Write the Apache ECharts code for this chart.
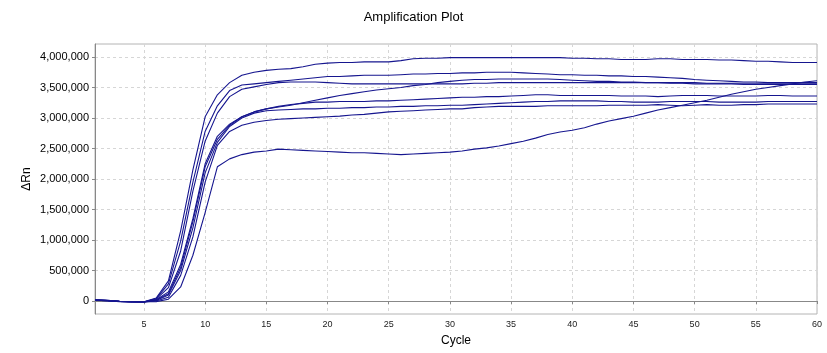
<!DOCTYPE html>
<html>
<head>
<meta charset="utf-8">
<script src="https://cdn.jsdelivr.net/npm/echarts@6/dist/echarts.min.js"></script>
<style>
html, body { margin: 0; padding: 0; background: #fff; }
#main { width: 827px; height: 353px; }
</style>
</head>
<body>
<div id="main"></div>
<script>
// 扩增曲线 (ΔRn in millions, one value per cycle)
var cycles = [1, 2, 3, 4, 5, 6, 7, 8, 9, 10, 11, 12, 13, 14, 15, 16, 17, 18, 19, 20,
	21, 22, 23, 24, 25, 26, 27, 28, 29, 30, 31, 32, 33, 34, 35, 36, 37, 38, 39, 40,
	41, 42, 43, 44, 45, 46, 47, 48, 49, 50, 51, 52, 53, 54, 55, 56, 57, 58, 59, 60];

var well1 = [0.015, 0.008, -0.005, -0.010, -0.012, 0.05, 0.33, 1.15, 2.15, 3.02, 3.38, 3.58, 3.70, 3.75, 3.78, 3.80, 3.81, 3.84, 3.88, 3.90,
	3.91, 3.91, 3.92, 3.92, 3.92, 3.94, 3.97, 3.98, 3.98, 3.99, 3.99, 3.99, 3.99, 3.99, 3.99, 3.99, 3.99, 3.99, 3.99, 3.98,
	3.98, 3.97, 3.97, 3.96, 3.96, 3.96, 3.97, 3.97, 3.96, 3.96, 3.96, 3.95, 3.95, 3.94, 3.93, 3.93, 3.92, 3.91, 3.91, 3.91];
var well2 = [0.012, 0.006, -0.008, -0.012, -0.015, 0.04, 0.28, 0.98, 1.95, 2.78, 3.20, 3.45, 3.54, 3.56, 3.58, 3.60, 3.62, 3.64, 3.66, 3.68,
	3.68, 3.69, 3.70, 3.70, 3.70, 3.71, 3.72, 3.72, 3.73, 3.73, 3.74, 3.74, 3.75, 3.75, 3.75, 3.74, 3.73, 3.72, 3.71, 3.71,
	3.70, 3.70, 3.69, 3.69, 3.68, 3.68, 3.67, 3.66, 3.65, 3.63, 3.62, 3.61, 3.60, 3.59, 3.59, 3.58, 3.58, 3.58, 3.58, 3.58];
var well3 = [0.018, 0.010, -0.004, -0.010, -0.014, 0.03, 0.22, 0.82, 1.80, 2.62, 3.08, 3.35, 3.47, 3.51, 3.55, 3.58, 3.59, 3.59, 3.59, 3.58,
	3.57, 3.56, 3.56, 3.56, 3.56, 3.56, 3.56, 3.56, 3.56, 3.56, 3.56, 3.57, 3.57, 3.58, 3.58, 3.58, 3.58, 3.58, 3.58, 3.58,
	3.58, 3.58, 3.58, 3.58, 3.58, 3.58, 3.58, 3.57, 3.57, 3.56, 3.56, 3.56, 3.56, 3.55, 3.55, 3.55, 3.55, 3.55, 3.55, 3.55];
var well4 = [0.010, 0.004, -0.010, -0.014, -0.016, 0.02, 0.15, 0.60, 1.35, 2.25, 2.70, 2.90, 3.02, 3.10, 3.15, 3.18, 3.21, 3.25, 3.29, 3.33,
	3.37, 3.40, 3.43, 3.46, 3.48, 3.50, 3.53, 3.55, 3.58, 3.60, 3.62, 3.63, 3.63, 3.64, 3.64, 3.64, 3.64, 3.64, 3.63, 3.62,
	3.61, 3.60, 3.60, 3.59, 3.59, 3.58, 3.58, 3.58, 3.58, 3.58, 3.57, 3.57, 3.57, 3.57, 3.57, 3.57, 3.57, 3.57, 3.57, 3.57];
var well5 = [0.014, 0.007, -0.006, -0.011, -0.013, 0.015, 0.12, 0.55, 1.30, 2.20, 2.65, 2.88, 3.02, 3.10, 3.15, 3.19, 3.22, 3.24, 3.26, 3.26,
	3.27, 3.27, 3.27, 3.28, 3.28, 3.29, 3.30, 3.31, 3.32, 3.33, 3.34, 3.34, 3.35, 3.35, 3.36, 3.37, 3.38, 3.38, 3.37, 3.37,
	3.37, 3.37, 3.37, 3.36, 3.36, 3.36, 3.35, 3.36, 3.37, 3.37, 3.37, 3.36, 3.36, 3.36, 3.36, 3.37, 3.37, 3.36, 3.36, 3.36];
var well6 = [0.016, 0.009, -0.007, -0.013, -0.015, 0.01, 0.10, 0.50, 1.20, 2.10, 2.60, 2.86, 3.00, 3.08, 3.12, 3.13, 3.14, 3.15, 3.15, 3.16,
	3.16, 3.17, 3.17, 3.18, 3.18, 3.19, 3.19, 3.20, 3.20, 3.21, 3.21, 3.22, 3.23, 3.24, 3.25, 3.26, 3.27, 3.27, 3.28, 3.28,
	3.28, 3.28, 3.27, 3.27, 3.26, 3.26, 3.26, 3.27, 3.27, 3.27, 3.27, 3.26, 3.26, 3.26, 3.26, 3.27, 3.27, 3.27, 3.27, 3.27];
var well7 = [0.013, 0.005, -0.009, -0.014, -0.017, 0.0, 0.06, 0.42, 1.05, 1.95, 2.55, 2.78, 2.88, 2.93, 2.96, 2.98, 2.99, 3.00, 3.01, 3.02,
	3.03, 3.05, 3.06, 3.08, 3.10, 3.11, 3.12, 3.13, 3.14, 3.15, 3.15, 3.17, 3.18, 3.19, 3.19, 3.19, 3.19, 3.20, 3.20, 3.20,
	3.20, 3.20, 3.21, 3.21, 3.21, 3.21, 3.22, 3.21, 3.20, 3.21, 3.22, 3.21, 3.21, 3.22, 3.22, 3.23, 3.23, 3.23, 3.23, 3.23];
var well8 = [0.020, 0.012, -0.003, -0.009, -0.012, -0.01, 0.03, 0.23, 0.75, 1.45, 2.20, 2.33, 2.40, 2.44, 2.46, 2.49, 2.48, 2.47, 2.46, 2.45,
	2.44, 2.43, 2.43, 2.42, 2.41, 2.40, 2.41, 2.42, 2.43, 2.44, 2.46, 2.49, 2.51, 2.54, 2.58, 2.62, 2.67, 2.73, 2.77, 2.80,
	2.84, 2.90, 2.95, 2.99, 3.03, 3.08, 3.13, 3.17, 3.21, 3.25, 3.29, 3.34, 3.39, 3.43, 3.47, 3.50, 3.53, 3.56, 3.59, 3.61];

var wells = [well1, well2, well3, well4, well5, well6, well7, well8];

var xTicks = [5, 10, 15, 20, 25, 30, 35, 40, 45, 50, 55, 60];
var yTicks = [0, 0.5, 1, 1.5, 2, 2.5, 3, 3.5, 4];

var myChart = echarts.init(document.getElementById('main'));

var toPairs = function (vals) {
	var out = [];
	for (var i = 0; i < cycles.length; i++) {
		out.push([cycles[i], vals[i]]);
	}
	return out;
};

var series = [];
for (var k = 0; k < wells.length; k++) {
	series.push({
		name: 'well' + (k + 1),
		type: 'line',
		data: toPairs(wells[k]),
		showSymbol: false,
		lineStyle: { color: '#16168f', width: 1.1 },
		itemStyle: { color: '#16168f' }
	});
}

var font = 'Liberation Sans';

var option = {
	animation: false,
	backgroundColor: '#fff',
	title: {
		text: 'Amplification Plot',
		left: 'center',
		top: 6,
		textStyle: { fontFamily: font, fontSize: 13, fontWeight: 'normal', color: '#000' }
	},
	grid: {
		left: 95,
		right: 10,
		top: 44,
		bottom: 39,
		show: true,
		borderColor: '#b4b4b4',
		borderWidth: 1
	},
	xAxis: {
		type: 'value',
		min: 1,
		max: 60,
		name: 'Cycle',
		nameLocation: 'middle',
		nameGap: 21,
		nameMoveOverlap: false,
		nameTextStyle: { fontFamily: font, fontSize: 12, color: '#000' },
		axisLine: { show: true, lineStyle: { color: '#888' } },
		axisTick: { show: true, length: 3, customValues: xTicks, lineStyle: { color: '#888' } },
		axisLabel: { customValues: xTicks, margin: 6, fontFamily: font, fontSize: 9, color: '#222' },
		splitLine: { show: true, lineStyle: { color: '#d6d6d6', type: [3, 3] } }
	},
	yAxis: {
		type: 'value',
		min: -0.213,
		max: 4.213,
		name: 'ΔRn',
		nameLocation: 'middle',
		nameGap: 62,
		nameMoveOverlap: false,
		nameTextStyle: { fontFamily: font, fontSize: 12, color: '#000' },
		axisLine: { show: true, lineStyle: { color: '#888' } },
		axisTick: { show: true, length: 3, customValues: yTicks, lineStyle: { color: '#888' } },
		axisLabel: {
			customValues: yTicks,
			margin: 6,
			fontFamily: font,
			fontSize: 11,
			color: '#000',
			formatter: function (v) {
				return Math.round(v * 1000000).toLocaleString('en-US');
			}
		},
		splitLine: { show: true, lineStyle: { color: '#d6d6d6', type: [3, 3] } }
	},
	series: series
};

myChart.setOption(option);
</script>
</body>
</html>
